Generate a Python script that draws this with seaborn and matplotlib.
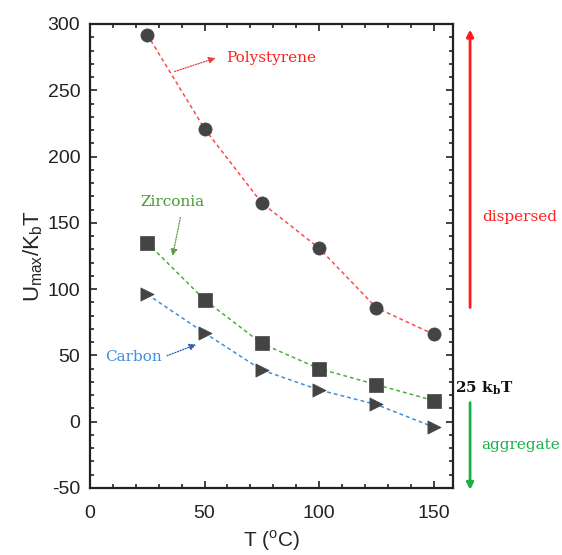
import numpy as np
import pandas as pd
import matplotlib
matplotlib.use("Agg")
import matplotlib.pyplot as plt
from matplotlib.ticker import MultipleLocator
import seaborn as sns

temps = [25, 50, 75, 100, 125, 150]
polystyrene = [292, 221, 165, 131, 86, 66]
zirconia = [135, 92, 59, 40, 28, 16]
carbon = [96, 67, 39, 24, 13, -4]

materials = ["Polystyrene", "Zirconia", "Carbon"]
line_colors = {"Polystyrene": "#ff4a4a", "Zirconia": "#4caf3c", "Carbon": "#3f8fdc"}
markers = {"Polystyrene": "o", "Zirconia": "s", "Carbon": ">"}

df = pd.DataFrame({
    "T": temps * 3,
    "U": polystyrene + zirconia + carbon,
    "material": sum([[m] * len(temps) for m in materials], []),
})

sns.set_style("ticks")
plt.rcParams["font.family"] = ["Liberation Sans", "DejaVu Sans"]
plt.rcParams["axes.unicode_minus"] = False

fig = plt.figure(figsize=(5.62, 5.55), dpi=100)
ax = fig.add_axes([90 / 562, (555 - 488) / 555, 363 / 562, 464 / 555])

sns.lineplot(data=df, x="T", y="U", hue="material", palette=line_colors,
             linestyle=(0, (2.5, 2)), linewidth=1.1, legend=False, ax=ax)
for m in materials:
    sub = df[df["material"] == m]
    sns.scatterplot(x=sub["T"], y=sub["U"], marker=markers[m], s=90,
                    color="#444444", edgecolor="#444444", linewidth=0.5,
                    zorder=5, legend=False, ax=ax)

ax.set_xlim(0, 158.5)
ax.set_ylim(-50, 300)
ax.xaxis.set_major_locator(MultipleLocator(50))
ax.xaxis.set_minor_locator(MultipleLocator(10))
ax.yaxis.set_major_locator(MultipleLocator(50))
ax.yaxis.set_minor_locator(MultipleLocator(10))
ax.tick_params(which="both", direction="in", top=True, right=True,
               labelsize=14, colors="#222222", width=1.2)
ax.tick_params(which="major", length=5)
ax.tick_params(which="minor", length=3)
ax.tick_params(axis="x", which="major", pad=12)
ax.tick_params(axis="y", which="major", pad=7)
for s in ax.spines.values():
    s.set_linewidth(1.6)
    s.set_color("#222222")
ax.set_xlabel("T ($^{\\mathregular{o}}$C)", fontsize=15, labelpad=5)
ax.set_ylabel("$\\mathregular{U_{max}/K_b T}$", fontsize=16, labelpad=2)

serif = ["DejaVu Serif"]
arrow_kw = dict(arrowstyle="-|>", linestyle=(0, (1, 1.2)), lw=0.9, mutation_scale=10)
ax.annotate("", xy=(56, 275), xytext=(35.8, 263.5),
            arrowprops=dict(color="#e04040", **arrow_kw))
ax.text(59.4, 274, "Polystyrene", color="#ff2020", fontsize=11, family=serif, va="center")
ax.annotate("", xy=(35.8, 123), xytext=(39.7, 156),
            arrowprops=dict(color="#5a9a40", **arrow_kw))
ax.text(36, 166, "Zirconia", color="#4a9a30", fontsize=11, family=serif, ha="center", va="center")
ax.annotate("", xy=(47.5, 59), xytext=(32.5, 49),
            arrowprops=dict(color="#3060b0", **arrow_kw))
ax.text(19, 49, "Carbon", color="#3f8fdc", fontsize=11, family=serif, ha="center", va="center")

ax.annotate("", xy=(1.047, 0.994), xytext=(1.047, 0.383), xycoords="axes fraction",
            arrowprops=dict(arrowstyle="-|>", color="#ff1a1a", lw=2, mutation_scale=10),
            annotation_clip=False)
ax.annotate("", xy=(1.047, -0.01), xytext=(1.047, 0.19), xycoords="axes fraction",
            arrowprops=dict(arrowstyle="-|>", color="#1ab04a", lw=2, mutation_scale=10),
            annotation_clip=False)
ax.text(1.085, 0.2155, "25 $\\mathregular{k_bT}$", transform=ax.transAxes, color="#111111",
        fontsize=11, family=serif, fontweight="bold", ha="center", va="center")
ax.text(1.185, 0.584, "dispersed", transform=ax.transAxes, color="#ff2020",
        fontsize=11, family=serif, ha="center", va="center")
ax.text(1.185, 0.093, "aggregate", transform=ax.transAxes, color="#1ab04a",
        fontsize=11, family=serif, ha="center", va="center")

fig.savefig("out.png", dpi=100)
